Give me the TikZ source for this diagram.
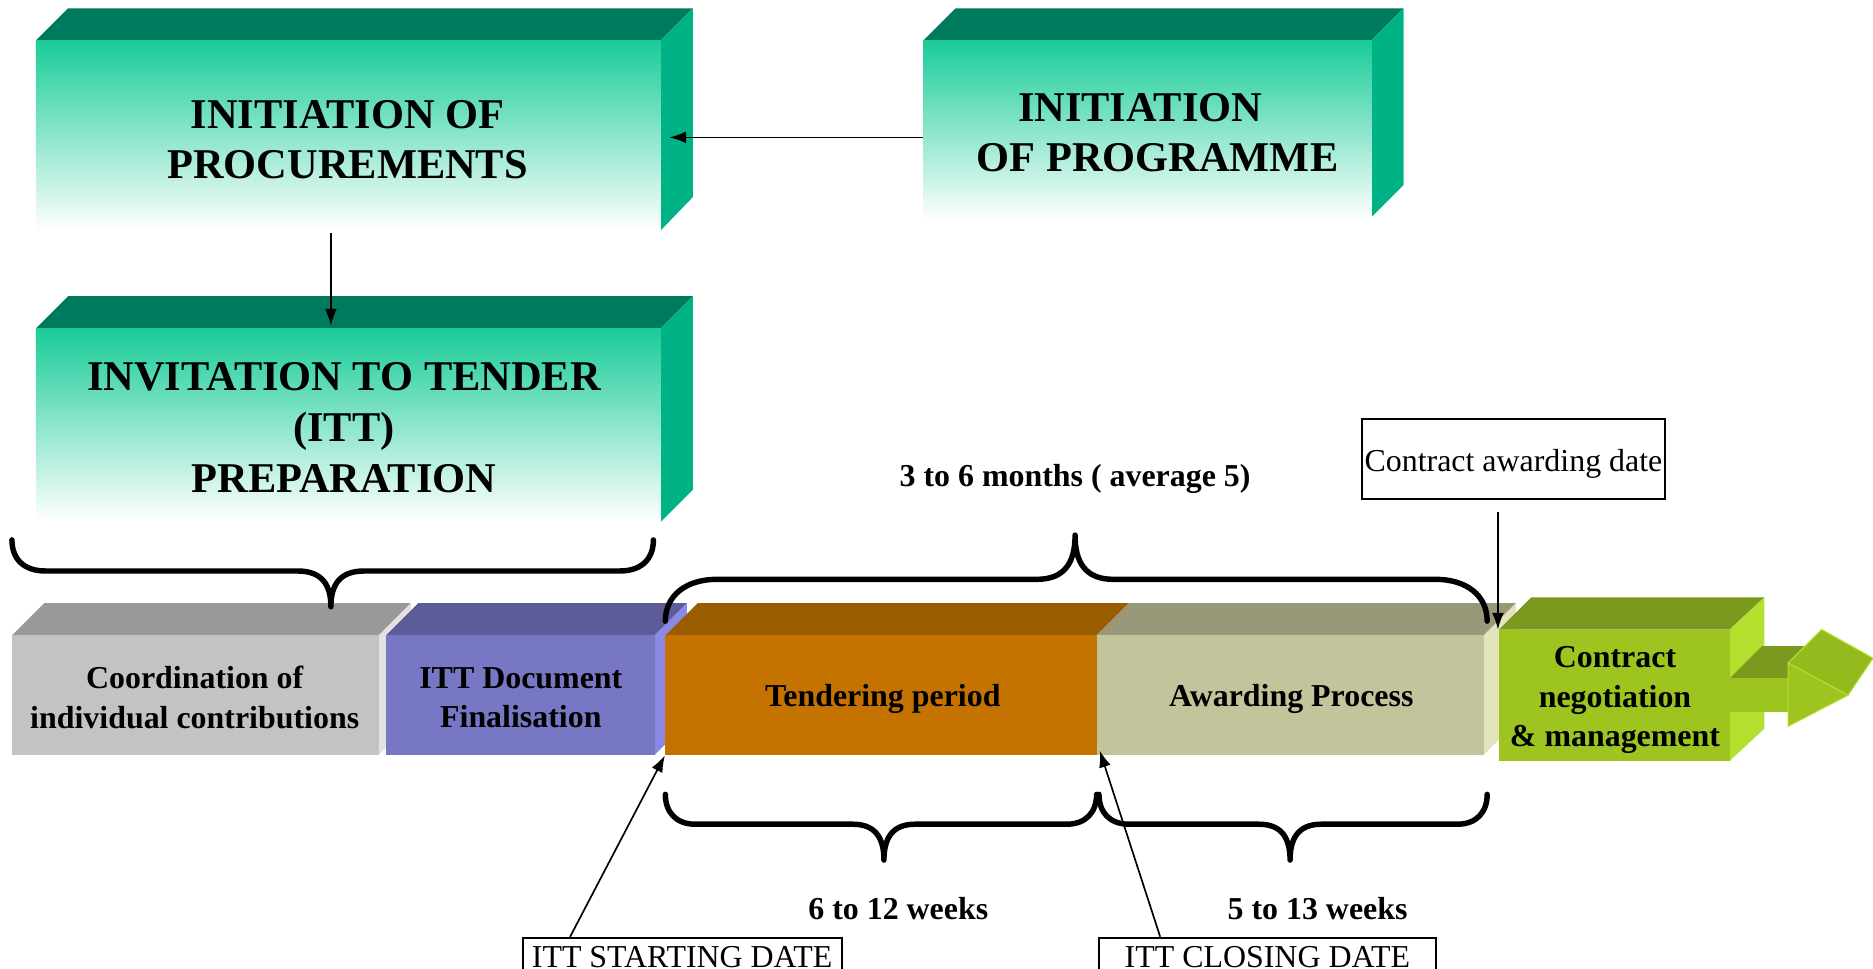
\documentclass[tikz,border=0pt]{standalone}
\usepackage{fontspec}
\setmainfont{Liberation Serif}
\usetikzlibrary{arrows.meta,fit,calc}
\definecolor{gtop}{RGB}{0,122,92}
\definecolor{gside}{RGB}{0,179,134}
\definecolor{gfront}{RGB}{25,204,153}
\definecolor{grayfront}{RGB}{195,195,195}
\definecolor{graytop}{RGB}{153,153,153}
\definecolor{grayside}{RGB}{226,226,226}
\definecolor{bluefront}{RGB}{119,119,196}
\definecolor{bluetop}{RGB}{92,92,153}
\definecolor{blueside}{RGB}{138,138,230}
\definecolor{orfront}{RGB}{196,115,0}
\definecolor{ortop}{RGB}{153,92,0}
\definecolor{khfront}{RGB}{196,196,156}
\definecolor{khtop}{RGB}{153,153,122}
\definecolor{khside}{RGB}{228,228,188}
\definecolor{lgfront}{RGB}{157,196,31}
\definecolor{lgtop}{RGB}{122,153,30}
\definecolor{lgside}{RGB}{179,224,46}
\begin{document}
\begin{tikzpicture}[x=0.2mm,y=-0.2mm,
  face/.style={inner sep=0pt},
  bigtxt/.style={inner sep=0pt, align=center, font=\bfseries\fontsize{20.2}{24.2}\selectfont},
  blocktxt/.style={inner sep=0pt, align=center, font=\bfseries\fontsize{15.2}{18.8}\selectfont},
  lbl/.style={inner sep=0pt, font=\bfseries\fontsize{15.2}{18.8}\selectfont},
  datebox/.style={draw, line width=0.85pt, inner sep=0pt},
  datetxt/.style={inner sep=0pt, font=\fontsize{15.2}{18.8}\selectfont},
  arr/.style={line width=0.8pt, -{Latex[length=2.8mm,width=2mm]}},
  brace/.style={line width=2.6pt, line cap=round, line join=round}]
\useasboundingbox (0,0) rectangle (1568,811);
\clip (0,0) rectangle (1568,811);

% --- Initiation of procurements
\fill[gtop] (30,34) -- (57,7) -- (580,7) -- (553,34) -- cycle;
\fill[gside] (553,34) -- (580,7) -- (580,165) -- (553,193) -- cycle;
\shade[top color=gfront, bottom color=white] (30,34) rectangle (553,193);
\node[face, fit={(30,34)(553,193)}] (proc) {};
\node[bigtxt] (proctxt) at (291,117) {INITIATION OF\\PROCUREMENTS};

% --- Initiation of programme
\fill[gtop] (773,34) -- (800,7) -- (1175,7) -- (1148,34) -- cycle;
\fill[gside] (1148,34) -- (1175,7) -- (1175,155) -- (1148,182) -- cycle;
\shade[top color=gfront, bottom color=white] (773,34) rectangle (1148,185);
\node[face, fit={(773,34)(1148,196)}] (prog) {};
\node[bigtxt] (progtxt) at (962,111) {INITIATION\hspace*{3mm}\\\hspace*{2.8mm}OF PROGRAMME};

% --- ITT preparation
\fill[gtop] (30,275) -- (57,248) -- (580,248) -- (553,275) -- cycle;
\fill[gside] (553,275) -- (580,248) -- (580,410) -- (553,437) -- cycle;
\shade[top color=gfront, bottom color=white] (30,275) rectangle (553,437);
\node[face, fit={(30,275)(553,437)}] (itt) {};
\node[bigtxt] (itttxt) at (288,358) {INVITATION TO TENDER\\(ITT)\\PREPARATION};

% --- bottom row blocks
\fill[graytop] (10,532) -- (37,505) -- (344,505) -- (317,532) -- cycle;
\fill[grayside] (317,532) -- (344,505) -- (344,605) -- (317,632) -- cycle;
\fill[grayfront] (10,532) rectangle (317,632);
\node[face, fit={(10,532)(317,632)}] (coord) {};
\node[blocktxt] at (163,584) {Coordination of\\individual contributions};

\fill[bluetop] (323,532) -- (350,505) -- (575,505) -- (548,532) -- cycle;
\fill[blueside] (548,532) -- (575,505) -- (575,605) -- (548,632) -- cycle;
\fill[bluefront] (323,532) rectangle (548,632);
\node[face, fit={(323,532)(548,632)}] (fin) {};
\node[blocktxt] at (436,584) {ITT Document\\Finalisation};

\fill[ortop] (557,532) -- (584,505) -- (945,505) -- (918,532) -- cycle;
\fill[orfront] (557,532) rectangle (918,632);
\node[face, fit={(557,532)(918,632)}] (tend) {};
\node[blocktxt] at (739,585) {Tendering period};

\fill[khtop] (918,532) -- (945,505) -- (1269,505) -- (1242,532) -- cycle;
\fill[khside] (1242,532) -- (1269,505) -- (1269,605) -- (1242,632) -- cycle;
\fill[khfront] (918,532) rectangle (1242,632);
\node[face, fit={(918,532)(1242,632)}] (award) {};
\node[blocktxt] at (1081,585) {Awarding Process};

\fill[lgtop] (1255,527) -- (1282,500) -- (1477,500) -- (1448,527) -- cycle;
\fill[lgside] (1448,527) -- (1477,500) -- (1477,610) -- (1448,637) -- cycle;
% arrow shape
\fill[lgtop] (1448,568) -- (1475,541) -- (1522,541) -- (1497,568) -- cycle;
\fill[lgfront] (1448,568) rectangle (1497,596);
\fill[lgfront!95!black, draw=lgside, line width=0.5pt] (1497,555) -- (1525,527) -- (1568,551) -- (1547,582) -- cycle;
\fill[lgfront, draw=lgside, line width=0.5pt] (1497,555) -- (1547,582) -- (1497,608) -- cycle;
\fill[lgfront] (1255,527) rectangle (1448,637);
\node[face, fit={(1255,527)(1448,637)}] (contract) {};
\node[blocktxt] at (1352,586) {Contract\\negotiation\\\& management};

% --- connectors between top boxes
\draw[arr] (prog.west) -- ([xshift=1.4mm]prog.west -| proc.east);
\draw[arr] ([xshift=-2.9mm,yshift=-0.4mm]proc.south) -- ([xshift=-2.9mm,yshift=0.4mm]itt.north);

% --- braces
\draw[brace] (10,452) .. controls (10,468) and (20,478) .. (38,478) -- (249,478)
  .. controls (270,478) and (277,490) .. (277,508)
  .. controls (277,490) and (284,478) .. (305,478) -- (519,478)
  .. controls (537,478) and (547,468) .. (547,452);
\draw[brace] (557,520) .. controls (557,498) and (575,485) .. (600,485) -- (868,485)
  .. controls (892,485) and (900,470) .. (900,448)
  .. controls (900,470) and (908,485) .. (932,485) -- (1202,485)
  .. controls (1227,485) and (1245,498) .. (1245,520);
\draw[brace] (557,665) .. controls (557,680) and (566,690) .. (582,690) -- (714,690)
  .. controls (734,690) and (740,703) .. (740,720)
  .. controls (740,703) and (746,690) .. (766,690) -- (893,690)
  .. controls (909,690) and (918,680) .. (918,665);
\draw[brace] (920,665) .. controls (920,680) and (929,690) .. (945,690) -- (1054,690)
  .. controls (1074,690) and (1080,703) .. (1080,720)
  .. controls (1080,703) and (1086,690) .. (1106,690) -- (1220,690)
  .. controls (1236,690) and (1245,680) .. (1245,665);

% --- labels
\node[lbl] (months) at (900,401) {3 to 6 months ( average 5)};
\node[lbl] (w612) at (752,761) {6 to 12 weeks};
\node[lbl] (w513) at (1103,761) {5 to 13 weeks};

% --- date boxes
\node[datebox, fit={(1140,351)(1394,418)}] (cad) {};
\node[datetxt] at (1267,388) {Contract awarding date};
\coordinate (awdtip) at (1254,527);
\draw[arr, shorten <=2mm] (cad.south -| awdtip) -- (awdtip);

\node[datebox, fit={(438,785)(705,825)}] (start) {};
\node[datetxt] at (571,801) {ITT STARTING DATE};
\node[datebox, fit={(920,785)(1202,825)}] (close) {};
\node[datetxt] at (1061,801) {ITT CLOSING DATE};
\draw[arr] ([xshift=8mm]start.north west) -- (tend.south west);
\draw[arr] ([xshift=10.4mm]close.north west) -- ([xshift=0.6mm,yshift=0.8mm]award.south west);
\end{tikzpicture}
\end{document}
